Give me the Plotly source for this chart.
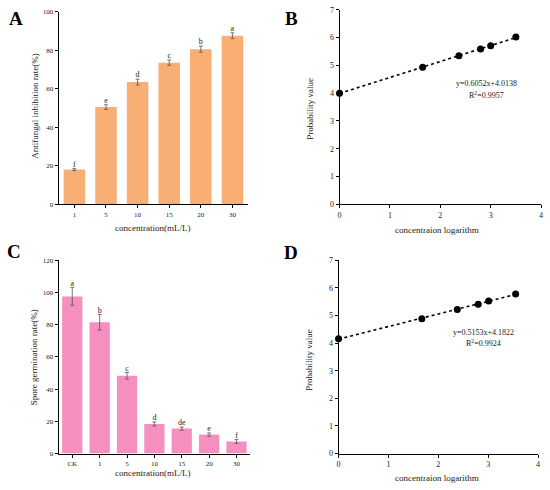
import plotly.graph_objects as go
import numpy as np

# Panel A data
conc_a = ["1", "5", "10", "15", "20", "30"]
inhib = [18.0, 50.5, 63.5, 73.6, 80.6, 87.6]
inhib_err = [0.5, 1.2, 1.5, 1.4, 1.6, 1.5]
inhib_sig = ["f", "e", "d", "c", "b", "a"]

# Panel B data
logc_b = [0.0, 1.65, 2.37, 2.80, 3.00, 3.50]
prob_b = [4.00, 4.93, 5.35, 5.59, 5.71, 6.02]
eq_b = "y=0.6052x+4.0138"
r2_b = "0.9957"

# Panel C data
conc_c = ["CK", "1", "5", "10", "15", "20", "30"]
germ = [97.5, 81.5, 48.3, 18.4, 15.5, 11.8, 7.5]
germ_err = [5.5, 4.8, 2.0, 1.2, 1.0, 1.0, 1.2]
germ_sig = ["a", "b", "c", "d", "de", "e", "f"]

# Panel D data
logc_d = [0.0, 1.67, 2.38, 2.80, 3.01, 3.55]
prob_d = [4.16, 4.88, 5.22, 5.41, 5.52, 5.78]
eq_d = "y=0.5153x+4.1822"
r2_d = "0.9924"

FONT = "Liberation Serif"
ORANGE = "#F9AE74"
PINK = "#F58FC0"
TXT = "#222222"

fig = go.Figure()

# A
fig.add_trace(go.Bar(x=conc_a, y=inhib, marker=dict(color=ORANGE, line=dict(width=0)), width=0.68,
                     error_y=dict(type="data", array=inhib_err, color="#555555", thickness=0.8, width=2),
                     xaxis="x", yaxis="y"))
fig.add_trace(go.Scatter(x=conc_a, y=[v + e for v, e in zip(inhib, inhib_err)], mode="text", text=inhib_sig,
                         textposition="top center", textfont=dict(family=FONT, size=8, color=TXT),
                         xaxis="x", yaxis="y", cliponaxis=False))

# B
cb = np.polyfit(logc_b, prob_b, 1)
fit_x_b = np.array([0, max(logc_b)])
fig.add_trace(go.Scatter(x=fit_x_b, y=np.polyval(cb, fit_x_b), mode="lines",
                         line=dict(color="black", width=1.6, dash="dot"), xaxis="x2", yaxis="y2"))
fig.add_trace(go.Scatter(x=logc_b, y=prob_b, mode="markers", marker=dict(color="black", size=7),
                         xaxis="x2", yaxis="y2", cliponaxis=False))

# C
fig.add_trace(go.Bar(x=conc_c, y=germ, marker=dict(color=PINK, line=dict(width=0)), width=0.74,
                     error_y=dict(type="data", array=germ_err, color="#555555", thickness=0.8, width=2),
                     xaxis="x3", yaxis="y3"))
fig.add_trace(go.Scatter(x=conc_c, y=[v + e for v, e in zip(germ, germ_err)], mode="text", text=germ_sig,
                         textposition="top center", textfont=dict(family=FONT, size=8, color=TXT),
                         xaxis="x3", yaxis="y3", cliponaxis=False))

# D
cd = np.polyfit(logc_d, prob_d, 1)
fit_x_d = np.array([0, max(logc_d)])
fig.add_trace(go.Scatter(x=fit_x_d, y=np.polyval(cd, fit_x_d), mode="lines",
                         line=dict(color="black", width=1.6, dash="dot"), xaxis="x4", yaxis="y4"))
fig.add_trace(go.Scatter(x=logc_d, y=prob_d, mode="markers", marker=dict(color="black", size=7),
                         xaxis="x4", yaxis="y4", cliponaxis=False))

W, H = 550, 490
def dx(a, b):
    return [a / W, b / W]
def dy(top, bot):
    return [1 - bot / H, 1 - top / H]

axis_common = dict(showline=True, linecolor="black", linewidth=1, ticks="outside", ticklen=3,
                   tickcolor="black", tickwidth=1, showgrid=False, zeroline=False,
                   tickfont=dict(family=FONT, size=7, color=TXT), mirror=False)
big_tick = dict(family=FONT, size=8, color=TXT)

fig.update_layout(
    width=W, height=H, margin=dict(l=0, r=0, t=0, b=0), showlegend=False,
    plot_bgcolor="white", paper_bgcolor="white",
    xaxis=dict(axis_common, domain=dx(57, 248), anchor="y", range=[-0.5, 5.5]),
    yaxis=dict(axis_common, domain=dy(8, 204), anchor="x", range=[0, 100], dtick=20),
    xaxis2=dict(axis_common, domain=dx(340, 543), anchor="y2", range=[0, 4], dtick=1, tickfont=big_tick),
    yaxis2=dict(axis_common, domain=dy(6, 204), anchor="x2", range=[0, 7], dtick=1, tickfont=big_tick),
    xaxis3=dict(axis_common, domain=dx(57, 250), anchor="y3", range=[-0.5, 6.5]),
    yaxis3=dict(axis_common, domain=dy(261, 458), anchor="x3", range=[0, 120], dtick=20),
    xaxis4=dict(axis_common, domain=dx(339, 540), anchor="y4", range=[0, 4], dtick=1, tickfont=big_tick),
    yaxis4=dict(axis_common, domain=dy(261, 458), anchor="x4", range=[0, 7], dtick=1, tickfont=big_tick),
)

def ann(text, x, y, size, angle=0, bold=False):
    fig.add_annotation(x=x / W, y=1 - y / H, xref="paper", yref="paper", xanchor="center", yanchor="middle",
                       text=f"<b>{text}</b>" if bold else text, showarrow=False, textangle=angle,
                       font=dict(family=FONT, size=size, color="black" if bold else TXT))

# axis titles
ann("concentration(mL/L)", 152, 228, 9)
ann("Antifungal inhibition rate(%)", 33, 104, 9, -90)
ann("concentraion logarithm", 438, 230, 9)
ann("Probability value", 310, 107, 9, -90)
ann("concentration(mL/L)", 152, 478, 9)
ann("Spore germination rate(%)", 33, 360, 9, -90)
ann("concentraion logarithm", 438, 483, 9)
ann("Probability value", 310, 363, 9, -90)

# equations
ann(eq_b, 488, 81, 8)
ann(f"R<sup>2</sup>={r2_b}", 488, 93, 8)
ann(eq_d, 485, 335, 8)
ann(f"R<sup>2</sup>={r2_d}", 485, 345, 8)

# panel letters
for t, x, y in [("A", 14, 15), ("B", 292, 15), ("C", 12, 252), ("D", 291, 253)]:
    ann(t, x, y, 19, bold=True)

fig.write_html("out.html", config={"displayModeBar": False},
               post_script="document.body.style.margin='0';")
